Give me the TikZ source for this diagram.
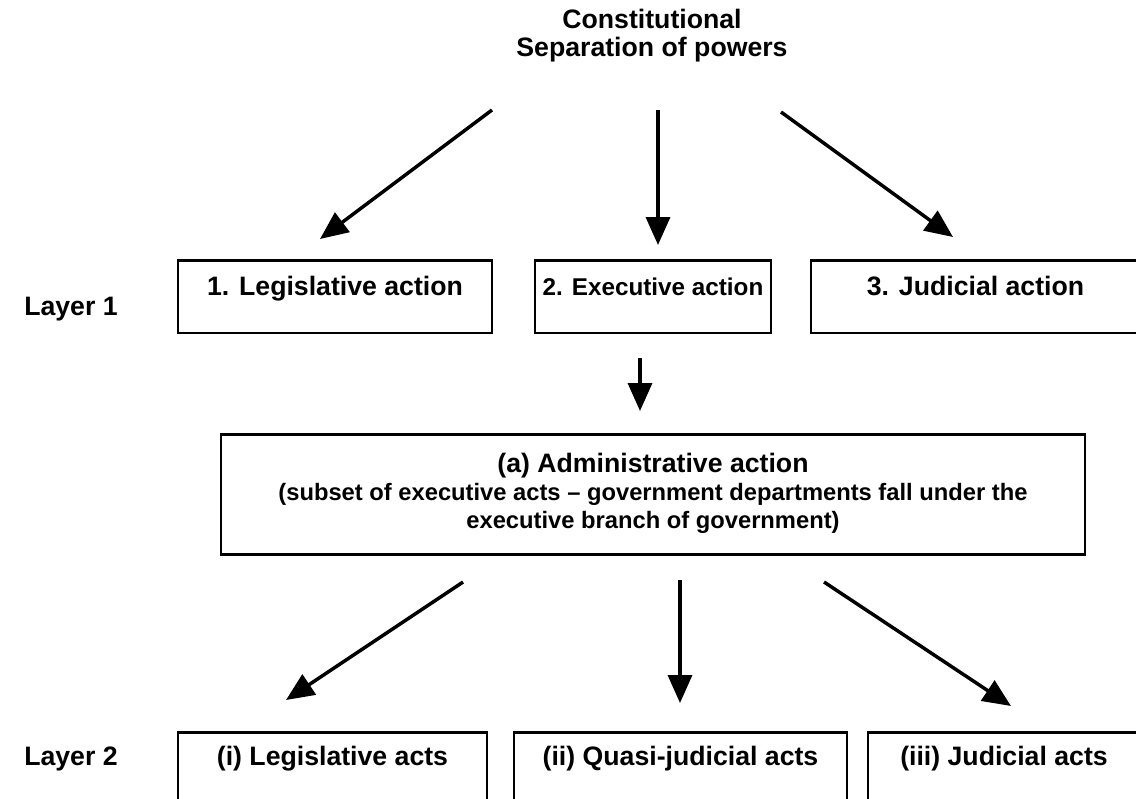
\documentclass[tikz,border=0pt]{standalone}
\usepackage{fontspec}
\setmainfont{Liberation Sans}
\usetikzlibrary{arrows.meta}
\tikzset{
  big/.style={font=\bfseries\fontsize{20pt}{21pt}\selectfont},
  mid/.style={font=\bfseries\fontsize{18.2pt}{20pt}\selectfont},
  lbl/.style={big, inner sep=0pt},
  boxa/.style={big, draw, line width=2pt, anchor=north, inner xsep=0pt, inner ysep=0pt,
    text height=26pt, text depth=28.5pt},
  boxb/.style={big, draw, line width=2pt, anchor=north, inner xsep=0pt, inner ysep=0pt,
    text height=24.75pt, text depth=40pt},
  arr/.style={line width=2.6pt, -{Triangle[length=21pt, width=18pt]}}
}
\begin{document}
\begin{tikzpicture}[x=0.75pt, y=-0.75pt]
\useasboundingbox (0,0) rectangle (1136,799);
% title
\node[lbl, align=center, anchor=north] (title) at (652,9) {Constitutional\\Separation of powers};
% layer labels
\node[lbl, anchor=base west] (l1) at (24,315) {Layer 1};
\node[lbl, anchor=base west] (l2) at (24,765) {Layer 2};
% layer 1 boxes
\node[boxa, minimum width=235.5pt] (b1) at (335,259) {1. Legislative action};
\node[boxa, mid, minimum width=177pt] (b2) at (653,259) {2. Executive action};
\node[boxa, minimum width=246.75pt] (b3) at (975.5,259) {3. Judicial action};
% admin box
\node[big, draw, line width=2pt, anchor=north, minimum width=648pt, align=center, inner sep=0pt] (adm) at (653,433)
  {\rule{0pt}{28.5pt}(a) Administrative action\\
   \fontsize{17.8pt}{22pt}\selectfont (subset of executive acts -- government departments fall under the\\
   \fontsize{17.8pt}{22pt}\selectfont executive branch of government)\rule[-19.5pt]{0pt}{0pt}};
% layer 2 boxes
\node[boxb, minimum width=231.75pt] (c1) at (332.5,731) {(i) Legislative acts};
\node[boxb, minimum width=249.75pt] (c2) at (680.5,731) {(ii) Quasi-judicial acts};
\node[boxb, minimum width=204pt] (c3) at (1004,731) {(iii) Judicial acts};
% coordinates
\coordinate (t1) at (492,110); \coordinate (e1) at (320,239);
\coordinate (t2) at (658,110); \coordinate (e2) at (658,245);
\coordinate (t3) at (781,112); \coordinate (e3) at (953,237);
\coordinate (x1) at (640,358); \coordinate (x2) at (640,411);
\coordinate (a1) at (463,582); \coordinate (f1) at (286,700);
\coordinate (a2) at (680,580); \coordinate (f2) at (680,703);
\coordinate (a3) at (824,582); \coordinate (f3) at (1011,706);
\draw[arr] (t1) -- (e1);
\draw[arr] (t2) -- (e2);
\draw[arr] (t3) -- (e3);
\draw[arr] (x1) -- (x2);
\draw[arr] (a1) -- (f1);
\draw[arr] (a2) -- (f2);
\draw[arr] (a3) -- (f3);
\end{tikzpicture}
\end{document}
